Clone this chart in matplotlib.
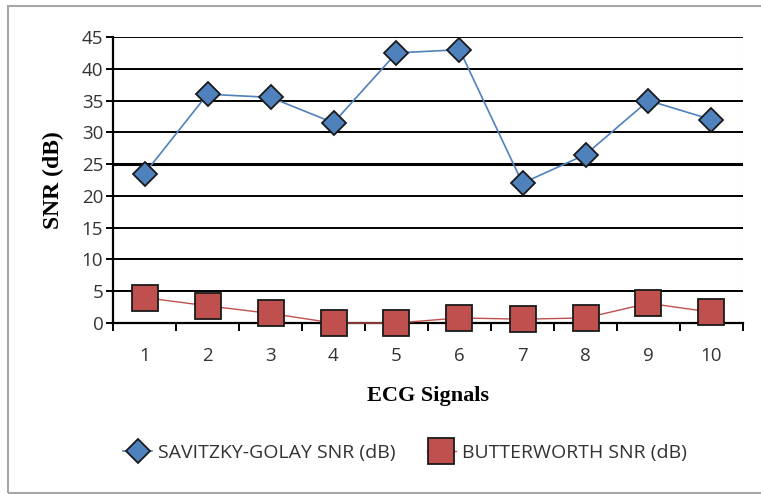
import numpy as np
import matplotlib.pyplot as plt
from matplotlib.lines import Line2D

signals = [1, 2, 3, 4, 5, 6, 7, 8, 9, 10]
savitzky_golay = [23.5, 36, 35.5, 31.5, 42.5, 43, 22, 26.5, 35, 32]
butterworth = [4, 2.7, 1.5, 0, 0, 0.8, 0.6, 0.8, 3.1, 1.7]
y_ticks = [0, 5, 10, 15, 20, 25, 30, 35, 40, 45]

blue = '#4F81BD'
red = '#C0504D'
tick_font = 'Open Sans'

fig = plt.figure(figsize=(7.61, 4.94), dpi=100)
ax = fig.add_axes([113 / 761, 1 - 323 / 494, 630 / 761, 286 / 494])

# horizontal black gridlines like the Excel original
for v in y_ticks[1:]:
    ax.axhline(v, color='black', lw=2.2 if v == 25 else 1.4, zorder=1)

ax.plot(signals, savitzky_golay, color=blue, lw=1.2, marker='D', markersize=12,
        markerfacecolor=blue, markeredgecolor='#1a1a1a', markeredgewidth=1.3,
        zorder=3, label='SAVITZKY-GOLAY SNR (dB)')
ax.plot(signals, butterworth, color=red, lw=1.0, marker='s', markersize=19,
        markerfacecolor=red, markeredgecolor='#1a1a1a', markeredgewidth=1.3,
        zorder=3, label='BUTTERWORTH SNR (dB)', clip_on=False)

ax.set_xlim(0.5, 10.5)
ax.set_ylim(0, 45)
ax.set_yticks(y_ticks)
ax.set_xticks(signals)
ax.set_xticks(np.arange(0.5, 11, 1), minor=True)
ax.tick_params(axis='x', which='major', length=0, pad=17, labelsize=13.5)
ax.tick_params(axis='x', which='minor', length=6, width=1.4, direction='out')
ax.tick_params(axis='y', length=5, width=1.4, labelsize=13.5, pad=2)
for lab in ax.get_xticklabels() + ax.get_yticklabels():
    lab.set_fontfamily(tick_font)
    lab.set_color('#333333')

for s in ['top', 'right']:
    ax.spines[s].set_visible(False)
ax.spines['left'].set_linewidth(1.6)
ax.spines['bottom'].set_linewidth(1.6)
ax.axvline(10.5, color='#dddddd', lw=0.8, zorder=0)

ax.set_ylabel('SNR (dB)', fontfamily='Liberation Serif', fontweight='bold',
              fontsize=17, labelpad=13)
fig.text(428 / 761, 1 - 396 / 494, 'ECG Signals', fontfamily='Liberation Serif',
         fontweight='bold', fontsize=16, ha='center', va='center')

handles = [
    Line2D([], [], color=blue, lw=1.2, marker='D', markersize=12,
           markerfacecolor=blue, markeredgecolor='#1a1a1a', markeredgewidth=1.3),
    Line2D([], [], color=red, lw=1.0, marker='s', markersize=19,
           markerfacecolor=red, markeredgecolor='#1a1a1a', markeredgewidth=1.3),
]
leg = fig.legend(handles, ['SAVITZKY-GOLAY SNR (dB)', 'BUTTERWORTH SNR (dB)'],
                 loc='center', bbox_to_anchor=(405 / 761, 1 - 453 / 494), ncol=2,
                 frameon=False, handlelength=1.5, handletextpad=0.3,
                 columnspacing=1.6, prop={'family': tick_font, 'size': 14})
for t in leg.get_texts():
    t.set_color('#333333')

# outer chart border
fig.add_artist(plt.Rectangle((8 / 761, 1 / 494), 760 / 761, 487 / 494,
                             transform=fig.transFigure, fill=False,
                             edgecolor='#a6a6a6', lw=1.5))

fig.savefig('out.png', dpi=100)
